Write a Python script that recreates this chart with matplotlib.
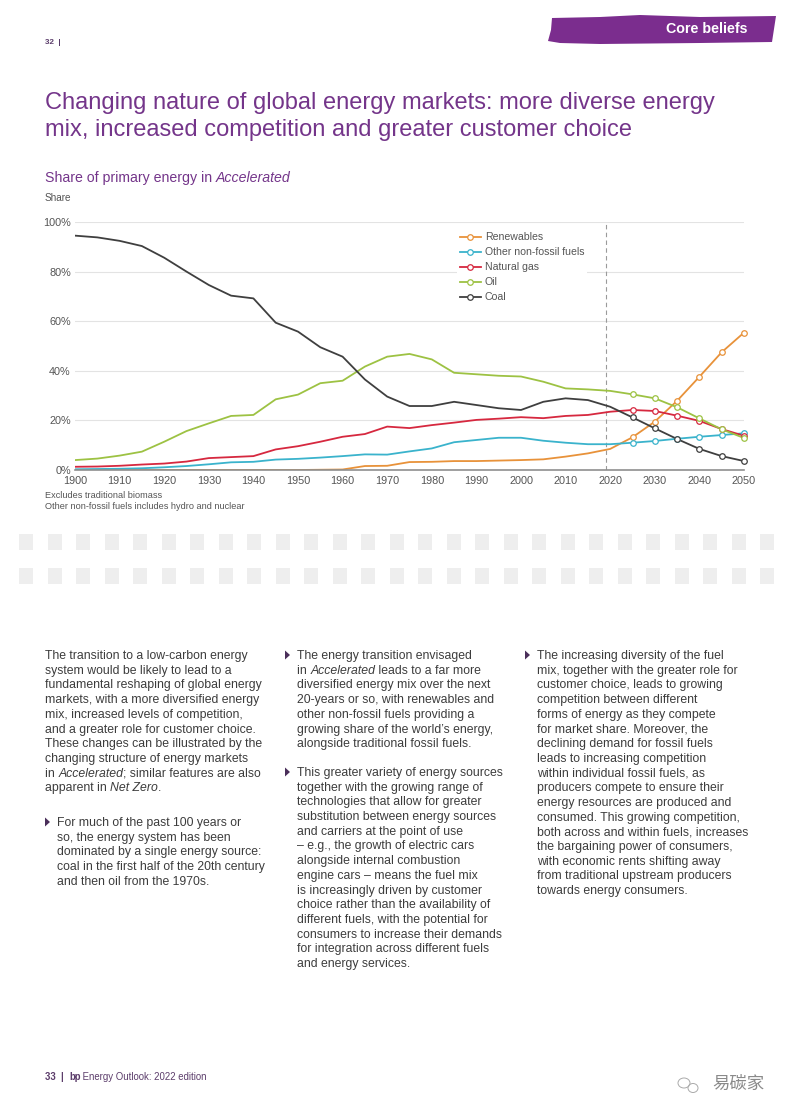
import matplotlib
matplotlib.use('Agg')
import matplotlib.pyplot as plt
from matplotlib.patches import Polygon, Rectangle, Ellipse
from matplotlib.lines import Line2D

W, H = 793, 1118
plt.rcParams['font.family'] = ['Liberation Sans', 'DejaVu Sans']

# data: share of primary energy (%), 5-year steps
years = list(range(1900, 2051, 5))
renewables = [0, 0, 0, 0, 0, 0, 0, 0, 0, 0, 0, 0.1, 0.2, 1.6, 1.7, 3.2,
              3.3, 3.6, 3.6, 3.8, 4.0, 4.3, 5.4, 6.7, 8.5, 13.2, 19.5,
              27.9, 37.6, 47.5, 55.4]
other_nonfossil = [0.3, 0.4, 0.5, 0.7, 1.1, 1.6, 2.3, 3.1, 3.3, 4.2, 4.5,
                   5.0, 5.6, 6.3, 6.2, 7.5, 8.7, 11.2, 12.1, 13.0, 13.0,
                   11.8, 11.0, 10.4, 10.4, 11.0, 11.7, 12.6, 13.4, 14.1, 14.8]
natural_gas = [1.3, 1.4, 1.7, 2.2, 2.6, 3.4, 4.8, 5.2, 5.6, 8.3, 9.6, 11.4,
               13.4, 14.5, 17.5, 16.9, 18.1, 19.1, 20.2, 20.7, 21.3, 20.9,
               21.8, 22.2, 23.5, 24.2, 23.8, 21.9, 19.8, 16.5, 13.8]
oil = [4.0, 4.6, 5.8, 7.4, 11.4, 15.7, 18.8, 21.8, 22.2, 28.5, 30.4, 35.0,
       36.0, 41.7, 45.7, 46.8, 44.6, 39.2, 38.6, 38.0, 37.7, 35.6, 32.9,
       32.5, 31.9, 30.5, 28.9, 25.3, 20.8, 16.4, 12.9]
coal = [94.5, 93.8, 92.4, 90.3, 85.6, 80.0, 74.6, 70.3, 69.2, 59.4, 55.8,
        49.5, 45.7, 36.5, 29.6, 25.8, 25.8, 27.5, 26.2, 24.9, 24.2, 27.5,
        28.9, 28.2, 25.5, 21.2, 16.8, 12.5, 8.5, 5.6, 3.6]
labels = ['Renewables', 'Other non-fossil fuels', 'Natural gas', 'Oil', 'Coal']
colors = ['#E8923A', '#3AB3CC', '#D6283F', '#9DC243', '#3F3F3F']
forecast_start = 2025
history_end = 2019
y_ticks = [0, 20, 40, 60, 80, 100]
y_ticklabels = ['0%', '20%', '40%', '60%', '80%', '100%']
x_ticks = list(range(1900, 2051, 10))

title_lines = ['Changing nature of global energy markets: more diverse energy',
               'mix, increased competition and greater customer choice']
notes = ['Excludes traditional biomass',
         'Other non-fossil fuels includes hydro and nuclear']

col1 = [
    'The transition to a low-carbon energy',
    'system would be likely to lead to a',
    'fundamental reshaping of global energy',
    'markets, with a more diversified energy',
    'mix, increased levels of competition,',
    'and a greater role for customer choice.',
    'These changes can be illustrated by the',
    'changing structure of energy markets',
    [('in ', 'normal'), ('Accelerated', 'italic'), ('; similar features are also', 'normal')],
    [('apparent in ', 'normal'), ('Net Zero', 'italic'), ('.', 'normal')],
]
col1_bullet = [
    'For much of the past 100 years or',
    'so, the energy system has been',
    'dominated by a single energy source:',
    'coal in the first half of the 20th century',
    'and then oil from the 1970s.',
]
col2_bullet1 = [
    'The energy transition envisaged',
    [('in ', 'normal'), ('Accelerated', 'italic'), (' leads to a far more', 'normal')],
    'diversified energy mix over the next',
    '20-years or so, with renewables and',
    'other non-fossil fuels providing a',
    'growing share of the world\u2019s energy,',
    'alongside traditional fossil fuels.',
]
col2_bullet2 = [
    'This greater variety of energy sources',
    'together with the growing range of',
    'technologies that allow for greater',
    'substitution between energy sources',
    'and carriers at the point of use',
    '\u2013 e.g., the growth of electric cars',
    'alongside internal combustion',
    'engine cars \u2013 means the fuel mix',
    'is increasingly driven by customer',
    'choice rather than the availability of',
    'different fuels, with the potential for',
    'consumers to increase their demands',
    'for integration across different fuels',
    'and energy services.',
]
col3_bullet = [
    'The increasing diversity of the fuel',
    'mix, together with the greater role for',
    'customer choice, leads to growing',
    'competition between different',
    'forms of energy as they compete',
    'for market share. Moreover, the',
    'declining demand for fossil fuels',
    'leads to increasing competition',
    'within individual fossil fuels, as',
    'producers compete to ensure their',
    'energy resources are produced and',
    'consumed. This growing competition,',
    'both across and within fuels, increases',
    'the bargaining power of consumers,',
    'with economic rents shifting away',
    'from traditional upstream producers',
    'towards energy consumers.',
]

fig = plt.figure(figsize=(W / 100, H / 100), dpi=100)
renderer = fig.canvas.get_renderer()
purple = '#74358A'
body = '#3c3c3c'


def fx(x):
    return x / W


def fy(y):
    return 1 - y / H


def write_runs(x, y, parts, size, color):
    # draw pieces of one line side by side, y is the baseline in pixels
    for part in parts:
        txt, style = part[0], part[1]
        weight = part[2] if len(part) > 2 else 'normal'
        t = fig.text(fx(x), fy(y), txt, fontsize=size, color=color,
                     style=style, weight=weight, va='baseline', ha='left')
        x += t.get_window_extent(renderer).width


def paragraph(x, y, lines, size=8.8, step=14.7, bullet=None):
    if bullet is not None:
        fig.patches.append(Polygon([(fx(bullet), fy(y - 4.5)), (fx(bullet + 5), fy(y)),
                                    (fx(bullet), fy(y + 4.5))], closed=True,
                                   transform=fig.transFigure, color='#4a2f5a', lw=0))
    for i, line in enumerate(lines):
        parts = [(line, 'normal')] if isinstance(line, str) else line
        write_runs(x, y + i * step + 4, parts, size, body)


# header tag
fig.patches.append(Polygon([(fx(x), fy(y)) for x, y in
                            [(552, 18), (600, 17), (640, 15), (700, 17), (776, 16),
                             (772, 42), (700, 43), (600, 44), (560, 43), (548, 41),
                             (551, 30)]],
                           closed=True, transform=fig.transFigure, color='#7B2D8E', lw=0))
fig.text(fx(747), fy(29), 'Core beliefs', fontsize=10.3, weight='bold', color='white',
         ha='right', va='center')
fig.text(fx(45), fy(43), '32  |', fontsize=5.8, weight='bold', color='#5a3c6a',
         ha='left', va='center')

for i, line in enumerate(title_lines):
    fig.text(fx(45), fy(109 + i * 27), line, fontsize=17, color=purple,
             ha='left', va='baseline')

write_runs(45, 182, [('Share of primary energy in ', 'normal'), ('Accelerated', 'italic')],
           10.2, purple)
fig.text(fx(45), fy(198), 'Share', fontsize=7.2, color='#555555', ha='left', va='center')

# chart
ax = fig.add_axes([fx(75), fy(470), (744 - 75) / W, (470 - 222) / H])
for label, vals, col in zip(labels, [renewables, other_nonfossil, natural_gas, oil, coal], colors):
    ax.plot(years, vals, color=col, lw=1.3, zorder=3, solid_joinstyle='round')
    fyrs = [y for y in years if y >= forecast_start]
    fv = [v for y, v in zip(years, vals) if y >= forecast_start]
    ax.plot(fyrs, fv, ls='none', marker='o', ms=4, mfc='white', mec=col, mew=0.9,
            zorder=4, clip_on=False)

ax.axvline(history_end, color='#9a9a9a', lw=0.8, ls=(0, (4, 3)), zorder=2)
ax.set_xlim(1900, 2050)
ax.set_ylim(0, 100)
ax.set_yticks(y_ticks)
ax.set_yticklabels(y_ticklabels)
ax.set_xticks(x_ticks)
ax.tick_params(length=0, labelsize=7.8, labelcolor='#555555')
ax.tick_params(axis='x', pad=4)
ax.tick_params(axis='y', pad=3)
ax.grid(axis='y', color='#e3e3e3', lw=0.8)
ax.set_axisbelow(True)
for s in ['top', 'right', 'left']:
    ax.spines[s].set_visible(False)
ax.spines['bottom'].set_color('#8f8f8f')
ax.spines['bottom'].set_linewidth(1.2)
ax.spines['bottom'].set_zorder(5)

handles = [Line2D([], [], color=c, lw=1.3, marker='o', ms=4, mfc='white', mec=c, mew=0.9)
           for c in colors]
leg = ax.legend(handles, labels, loc='upper left', bbox_to_anchor=(fx(452), fy(224)),
                bbox_transform=fig.transFigure, fontsize=7.6, frameon=True,
                facecolor='white', edgecolor='none', framealpha=1, fancybox=False,
                handlelength=1.9, handletextpad=0.4, labelspacing=0.47, borderpad=0.3)
for t in leg.get_texts():
    t.set_color('#555555')

for i, n in enumerate(notes):
    fig.text(fx(45), fy(495 + i * 12), n, fontsize=6.6, color='#555555', ha='left', va='center')

# grey square band
for row_y in [534, 568]:
    for i in range(27):
        fig.patches.append(Rectangle((fx(19 + i * 28.5), fy(row_y + 16)), 14 / W, 16 / H,
                                     transform=fig.transFigure, color='#eeeeee', lw=0))

# text columns
paragraph(45, 655, col1)
paragraph(57, 822, col1_bullet, bullet=45)
paragraph(297, 655, col2_bullet1, bullet=285)
paragraph(297, 772, col2_bullet2, bullet=285)
paragraph(537, 655, col3_bullet, bullet=525)

# footer
write_runs(45, 1080, [('33  |  ', 'normal', 'bold'), ('bp', 'normal', 'bold'),
                      (' Energy Outlook: 2022 edition', 'normal')], 6.9, '#5c3d6b')
fig.patches.append(Ellipse((fx(684), fy(1083)), 12 / W, 10 / H, transform=fig.transFigure,
                           fill=False, ec='#aaaaaa', lw=0.7))
fig.patches.append(Ellipse((fx(693), fy(1088)), 10 / W, 9 / H, transform=fig.transFigure,
                           fill=False, ec='#aaaaaa', lw=0.7))
fig.text(fx(712), fy(1084), '易碳家', fontsize=12.5, color='#8a8a8a', ha='left', va='center',
         family=['Noto Sans CJK SC', 'DejaVu Sans'])

fig.savefig('out.png', dpi=100)
